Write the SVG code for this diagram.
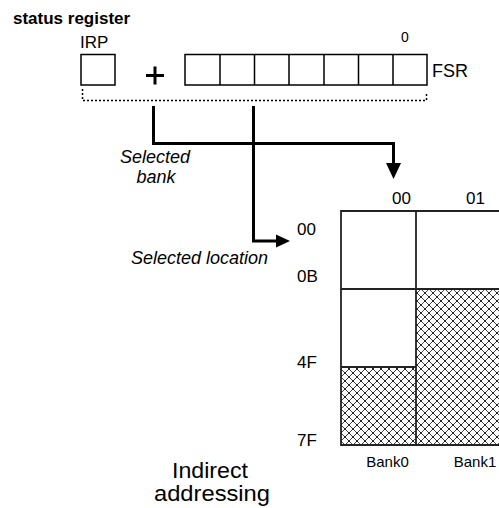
<svg xmlns="http://www.w3.org/2000/svg" width="499" height="508" viewBox="0 0 499 508">
  <style>
    text { font-family: "Liberation Sans", Arial, sans-serif; fill: #000; }
    .bold { font-weight: bold; }
    .it { font-style: italic; }
    .box { fill: #fff; stroke: #000; stroke-width: 1.5; }
    .grid { fill: none; stroke: #222; stroke-width: 1.8; }
    .conn { fill: none; stroke: #000; stroke-width: 3; }
    .dot { fill: none; stroke: #000; stroke-width: 1.5; stroke-dasharray: 2 2; }
  </style>
  <defs>
    <pattern id="hatch" patternUnits="userSpaceOnUse" x="341" y="289" width="8" height="8">
      <rect width="8" height="8" fill="#fff"/>
      <path d="M0 0 L8 8 M8 0 L0 8" stroke="#333" stroke-width="0.9"/>
      <rect x="3.3" y="3.3" width="1.4" height="1.4" fill="#000"/>
      <rect x="-0.7" y="-0.7" width="1.4" height="1.4" fill="#000"/>
      <rect x="7.3" y="-0.7" width="1.4" height="1.4" fill="#000"/>
      <rect x="-0.7" y="7.3" width="1.4" height="1.4" fill="#000"/>
      <rect x="7.3" y="7.3" width="1.4" height="1.4" fill="#000"/>
    </pattern>
  </defs>

  <g id="title">
    <text class="bold" x="13" y="24" font-size="17">status register</text>
  </g>

  <g id="irp">
    <text x="80" y="48" font-size="17">IRP</text>
    <rect class="box" x="81" y="54.5" width="34" height="30.5"/>
  </g>

  <g id="plus">
    <path d="M146 75.5 H164 M155 66.5 V84.5" stroke="#000" stroke-width="3" fill="none"/>
  </g>

  <g id="fsr">
    <text x="405" y="42" font-size="14" text-anchor="middle">0</text>
    <rect class="box" x="185" y="54.5" width="242" height="30.5"/>
    <path d="M220 54.5 V85 M254.5 54.5 V85 M289 54.5 V85 M324 54.5 V85 M358.5 54.5 V85 M393 54.5 V85" stroke="#000" stroke-width="1.5" fill="none"/>
    <text x="432" y="77" font-size="18">FSR</text>
  </g>

  <g id="concat">
    <path class="dot" d="M82.5 89 V100.5 H426.5 V92"/>
  </g>

  <g id="connectors">
    <path class="conn" d="M153.5 106 V143.5 H393.5 V165"/>
    <polygon points="386,163 401,163 393.5,179" fill="#000"/>
    <path class="conn" d="M253.5 106 V241 H277"/>
    <polygon points="276,234.5 276,247.5 290,241" fill="#000"/>
  </g>

  <g id="labels">
    <text class="it" font-size="18" text-anchor="middle"><tspan x="155" y="163">Selected</tspan><tspan x="156" y="183">bank</tspan></text>
    <text class="it" x="268" y="264" font-size="18" text-anchor="end">Selected location</text>
  </g>

  <g id="memory">
    <rect x="341" y="367" width="75" height="78" fill="url(#hatch)"/>
    <rect x="416" y="289" width="90" height="156" fill="url(#hatch)"/>
    <path class="grid" d="M505 211 H341 V445 H505 M416 211 V445 M341 289 H505 M341 367 H416"/>
    <text x="401.5" y="204" font-size="17" text-anchor="middle">00</text>
    <text x="475.5" y="204" font-size="17" text-anchor="middle">01</text>
    <text x="297" y="235" font-size="17">00</text>
    <text x="297" y="282" font-size="17">0B</text>
    <text x="297" y="368" font-size="17">4F</text>
    <text x="297" y="446" font-size="17">7F</text>
    <text x="387.5" y="467" font-size="15" text-anchor="middle">Bank0</text>
    <text x="475" y="467" font-size="15" text-anchor="middle">Bank1</text>
  </g>

  <g id="caption">
    <text x="172" y="478" font-size="22" textLength="76" lengthAdjust="spacingAndGlyphs">Indirect</text>
    <text x="154" y="501" font-size="22" textLength="116" lengthAdjust="spacingAndGlyphs">addressing</text>
  </g>
</svg>
